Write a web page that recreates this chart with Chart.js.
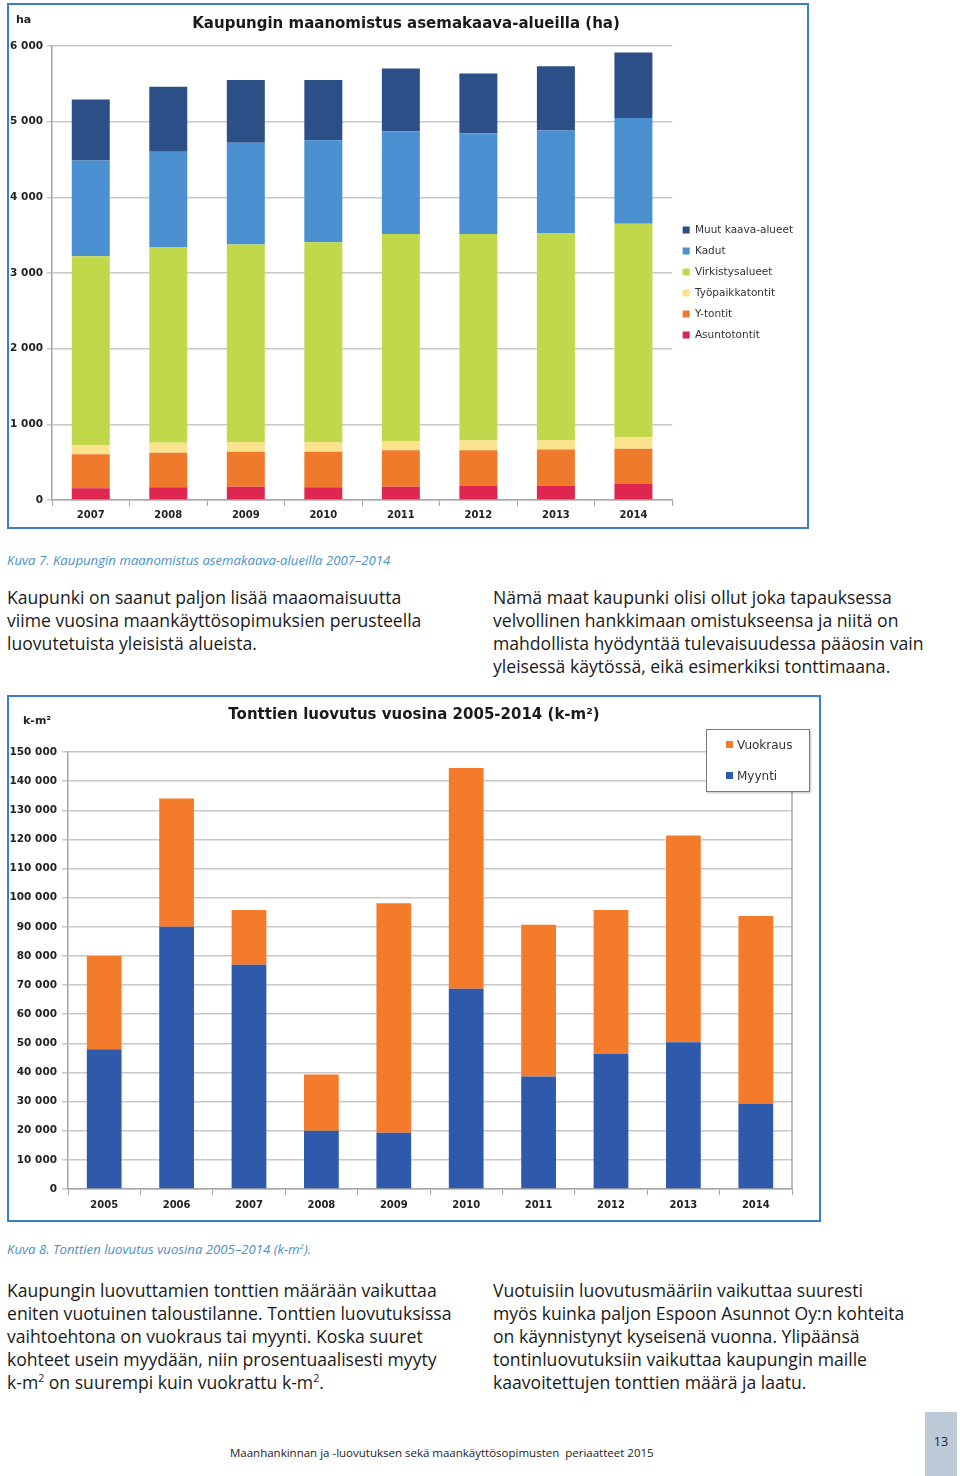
<!DOCTYPE html>
<html lang="fi">
<head>
<meta charset="utf-8">
<script src="https://cdn.jsdelivr.net/npm/chart.js@4.4.1/dist/chart.umd.min.js"></script>
<style>
  body { margin:0; width:960px; height:1476px; position:relative; background:#fff; font-family:"Open Sans", sans-serif; color:#1a1a1a; overflow:hidden; }
  .frame { position:absolute; border:2px solid #3c7fbf; box-sizing:border-box; }
  .frame div { position:relative; width:100%; height:100%; }
  .unit { position:absolute; font-family:"DejaVu Sans", sans-serif; font-weight:bold; font-size:11px; line-height:14px; color:#222; }
  .caption { position:absolute; left:7px; font-style:italic; font-size:13.2px; line-height:16px; color:#4a8fc5; white-space:nowrap; }
  .para { position:absolute; font-size:17.6px; line-height:23px; white-space:nowrap; }
  .para sup { font-size:10.5px; line-height:0; }
  #legend2 { position:absolute; left:706px; top:729px; width:104px; height:63px; box-sizing:border-box; border:1.5px solid #7a7a7a; background:#fff; box-shadow:1px 1px 2px rgba(0,0,0,.25); font-family:"DejaVu Sans", sans-serif; font-size:12px; color:#333; }
  #legend2 .item { position:absolute; left:19px; height:14px; line-height:14px; white-space:nowrap; }
  #legend2 .sw { display:inline-block; width:7px; height:7px; margin-right:4px; vertical-align:1px; }
  .footer { position:absolute; left:230px; top:1445px; font-size:11.5px; line-height:16px; color:#222; white-space:nowrap; }
  .pagebox { position:absolute; left:925px; top:1412px; width:32px; height:64px; background:#bccad8; }
  .pagebox span { position:absolute; left:0; width:32px; top:21px; text-align:center; font-size:12.5px; color:#222; }
</style>
</head>
<body>

<div class="frame" style="left:7px; top:3px; width:802px; height:526px;"><div><canvas id="chart1"></canvas></div></div>
<div class="unit" style="left:16px; top:13px;">ha</div>

<div class="caption" style="top:552px;">Kuva 7. Kaupungin maanomistus asemakaava-alueilla 2007–2014</div>

<div class="para" style="left:7px; top:586px;">Kaupunki on saanut paljon lisää maaomaisuutta<br>viime vuosina maankäyttösopimuksien perusteella<br>luovutetuista yleisistä alueista.</div>
<div class="para" style="left:493px; top:586px;">Nämä maat kaupunki olisi ollut joka tapauksessa<br>velvollinen hankkimaan omistukseensa ja niitä on<br>mahdollista hyödyntää tulevaisuudessa pääosin vain<br>yleisessä käytössä, eikä esimerkiksi tonttimaana.</div>

<div class="frame" style="left:7px; top:695px; width:814px; height:527px;"><div><canvas id="chart2"></canvas></div></div>
<div class="unit" style="left:23px; top:714px;">k-m²</div>
<div id="legend2"></div>

<div class="caption" style="top:1241px;">Kuva 8. Tonttien luovutus vuosina 2005–2014 (k-m<sup style="font-size:8px; line-height:0;">2</sup>).</div>

<div class="para" style="left:7px; top:1279px;">Kaupungin luovuttamien tonttien määrään vaikuttaa<br>eniten vuotuinen taloustilanne. Tonttien luovutuksissa<br>vaihtoehtona on vuokraus tai myynti. Koska suuret<br>kohteet usein myydään, niin prosentuaalisesti myyty<br>k-m<sup>2</sup> on suurempi kuin vuokrattu k-m<sup>2</sup>.</div>
<div class="para" style="left:493px; top:1279px;">Vuotuisiin luovutusmääriin vaikuttaa suuresti<br>myös kuinka paljon Espoon Asunnot Oy:n kohteita<br>on käynnistynyt kyseisenä vuonna. Ylipäänsä<br>tontinluovutuksiin vaikuttaa kaupungin maille<br>kaavoitettujen tonttien määrä ja laatu.</div>

<div class="footer">Maanhankinnan ja -luovutuksen sekä maankäyttösopimusten&nbsp; periaatteet 2015</div>
<div class="pagebox"><span>13</span></div>

<script>
// Kuva 7: maanomistus asemakaava-alueilla (ha)
const years1 = ['2007', '2008', '2009', '2010', '2011', '2012', '2013', '2014'];
const asuntotontit = [155, 168, 176, 168, 176, 189, 189, 211];
const yTontit = [449, 457, 462, 470, 480, 467, 480, 467];
const tyopaikkatontit = [119, 132, 128, 128, 123, 132, 124, 150];
const virkistysalueet = [2500, 2585, 2611, 2642, 2735, 2726, 2734, 2822];
const kadut = [1264, 1259, 1343, 1348, 1361, 1334, 1357, 1400];
const muutKaava = [806, 859, 832, 796, 828, 789, 849, 864];
const yMax1 = 6000, yStep1 = 1000;

// Kuva 8: tonttien luovutus (k-m2)
const years2 = ['2005', '2006', '2007', '2008', '2009', '2010', '2011', '2012', '2013', '2014'];
const myynti = [48000, 90000, 77000, 20000, 19300, 68700, 38600, 46300, 50400, 29200];
const vuokraus = [32000, 44000, 18800, 19300, 78800, 75800, 52100, 49500, 70900, 64500];
const yMax2 = 150000, yStep2 = 10000;

Chart.defaults.font.family = '"DejaVu Sans", sans-serif';
Chart.defaults.color = '#222';
Chart.defaults.animation = false;

// 6 000 -style thousands
const fmt = v => String(v).replace(/\B(?=(\d{3})+(?!\d))/g, ' ');

const gridGray = '#c8c8c8';
const axisGray = '#a6a6a6';

const chart1 = new Chart(document.getElementById('chart1'), {
    type: 'bar',
    data: {
        labels: years1,
        datasets: [
            { label: 'Asuntotontit', data: asuntotontit, backgroundColor: '#df2650' },
            { label: 'Y-tontit', data: yTontit, backgroundColor: '#f07a2c' },
            { label: 'Työpaikkatontit', data: tyopaikkatontit, backgroundColor: '#fbe38e' },
            { label: 'Virkistysalueet', data: virkistysalueet, backgroundColor: '#c2d84b' },
            { label: 'Kadut', data: kadut, backgroundColor: '#4b90d0' },
            { label: 'Muut kaava-alueet', data: muutKaava, backgroundColor: '#2b4f86' }
        ]
    },
    options: {
        responsive: true,
        maintainAspectRatio: false,
        datasets: { bar: { barPercentage: 0.49, categoryPercentage: 1 } },
        layout: { padding: { right: 4 } },
        plugins: {
            title: {
                display: true,
                text: 'Kaupungin maanomistus asemakaava-alueilla (ha)',
                font: { size: 15, weight: 'bold' },
                color: '#1a1a1a',
                padding: { top: 10, bottom: 13 }
            },
            legend: {
                position: 'right',
                align: 'center',
                fullSize: false,
                reverse: true,
                // empty title only pushes the entries a little lower
                title: { display: true, text: '', font: { size: 1 }, padding: { top: 18, bottom: 0 } },
                labels: { boxWidth: 7, boxHeight: 7, padding: 10.5, font: { size: 10.5 }, color: '#333' }
            },
            tooltip: { enabled: false }
        },
        scales: {
            x: {
                stacked: true,
                grid: { drawOnChartArea: false, drawTicks: true, tickLength: 6, color: axisGray },
                border: { color: axisGray, width: 1.5 },
                ticks: { font: { size: 10, weight: 'bold' }, padding: 3 },
                afterFit(s) { s.height = 27; }
            },
            y: {
                stacked: true,
                min: 0,
                max: yMax1,
                ticks: { stepSize: yStep1, font: { size: 10.5, weight: 'bold' }, padding: 4, callback: v => fmt(v) },
                grid: { color: gridGray, lineWidth: 1.5, tickLength: 5 },
                border: { color: axisGray, width: 1.5 },
                afterFit(s) { s.width = 43; }
            }
        }
    }
});

// vertical line on the right edge of the plot area
const rightEdge = {
    id: 'rightEdge',
    beforeDatasetsDraw(chart) {
        const { ctx, chartArea } = chart;
        ctx.save();
        ctx.strokeStyle = axisGray;
        ctx.lineWidth = 1.5;
        ctx.beginPath();
        ctx.moveTo(chartArea.right, chartArea.top);
        ctx.lineTo(chartArea.right, chartArea.bottom);
        ctx.stroke();
        ctx.restore();
    }
};

const chart2 = new Chart(document.getElementById('chart2'), {
    type: 'bar',
    data: {
        labels: years2,
        datasets: [
            { label: 'Myynti', data: myynti, backgroundColor: '#2f5aab' },
            { label: 'Vuokraus', data: vuokraus, backgroundColor: '#f47b2b' }
        ]
    },
    plugins: [rightEdge],
    options: {
        responsive: true,
        maintainAspectRatio: false,
        datasets: { bar: { barPercentage: 0.48, categoryPercentage: 1 } },
        plugins: {
            title: {
                display: true,
                text: 'Tonttien luovutus vuosina 2005-2014 (k-m²)',
                font: { size: 15, weight: 'bold' },
                color: '#1a1a1a',
                padding: { top: 9, bottom: 28 }
            },
            legend: { display: false },
            tooltip: { enabled: false }
        },
        scales: {
            x: {
                stacked: true,
                grid: { drawOnChartArea: false, drawTicks: true, tickLength: 6, color: axisGray },
                border: { color: axisGray, width: 1.5 },
                ticks: { font: { size: 10, weight: 'bold' }, padding: 4 },
                afterFit(s) { s.height = 31; }
            },
            y: {
                stacked: true,
                min: 0,
                max: yMax2,
                ticks: { stepSize: yStep2, font: { size: 10.5, weight: 'bold' }, padding: 5, callback: v => fmt(v) },
                grid: { color: gridGray, lineWidth: 1.5, tickLength: 6 },
                border: { color: axisGray, width: 1.5 },
                afterFit(s) { s.width = 59; }
            },
            // empty right-hand axis: keeps the white margin right of the plot
            yRight: {
                position: 'right',
                grid: { display: false },
                ticks: { display: false },
                border: { display: false },
                afterFit(s) { s.width = 27; }
            }
        }
    }
});

// boxed legend for chart 2, top entry first
const legend2 = document.getElementById('legend2');
chart2.data.datasets.slice().reverse().forEach((ds, i) => {
    const item = document.createElement('div');
    item.className = 'item';
    item.style.top = (8 + i * 31) + 'px';
    item.innerHTML = `<span class="sw" style="background:${ds.backgroundColor}"></span>${ds.label}`;
    legend2.appendChild(item);
});
</script>
</body>
</html>
